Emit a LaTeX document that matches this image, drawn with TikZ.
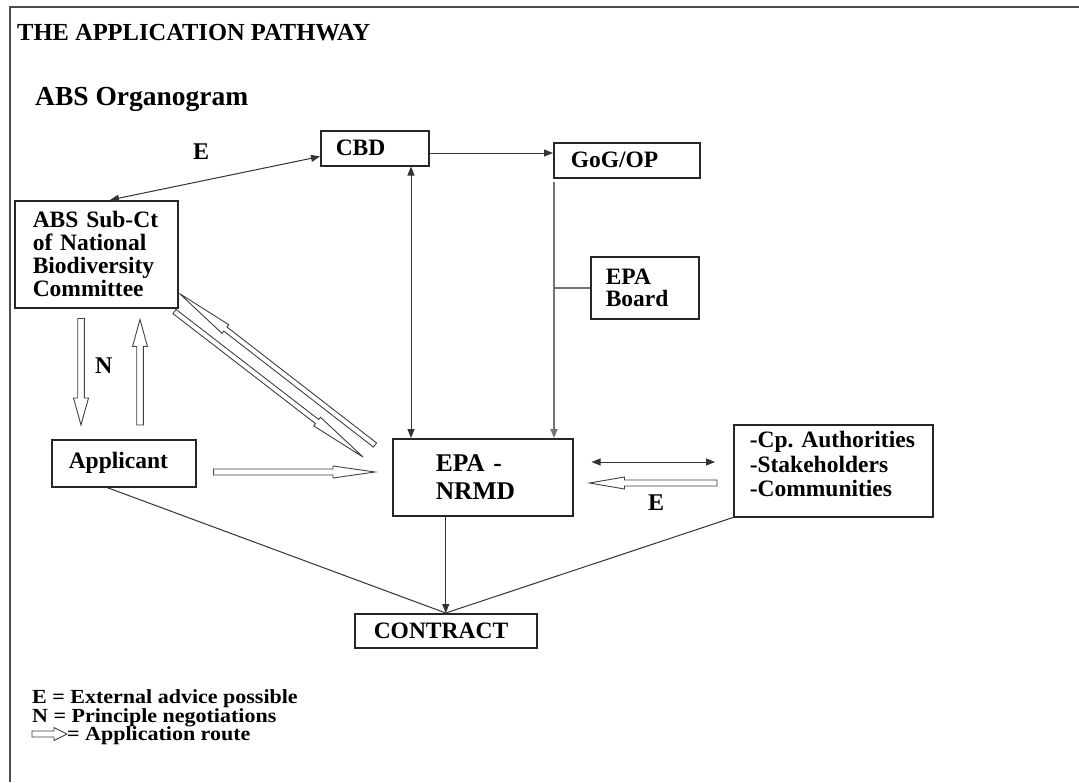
\documentclass[tikz,border=0pt]{standalone}
\usepackage{fontspec}
\setmainfont{Liberation Serif}
\newfontfamily\legendfont[FakeStretch=1.1]{Liberation Serif}
\usetikzlibrary{calc,arrows.meta}
\newcommand\fs[2]{\fontsize{#1}{#2}\selectfont\bfseries\frenchspacing}
\tikzset{
  box/.style={draw=black!85, line width=1.5pt, anchor=north west, align=left, inner ysep=0pt, font=\fs{23.5}{23}},
  thinline/.style={line width=1pt, draw=black!80},
  gline/.style={line width=1.6pt, draw=black!55},
  tipend/.style={-{Triangle[length=9pt,width=7pt]}},
  dtip/.style={{Triangle[length=9pt,width=7pt]}-{Triangle[length=9pt,width=7pt]}},
  hollow/.style={draw=black!75, line width=0.9pt, fill=white, line join=miter},
  lbl/.style={anchor=base west, inner sep=0pt},
}
% hollow arrow: #1 tail, #2 tip, #3 shaft half width, #4 head half width, #5 head length
\newcommand\harrow[5]{%
  \draw[hollow] let \p1=(#1), \p2=(#2),
     \n1={veclen(\x2-\x1,\y2-\y1)}, \n2={(\x2-\x1)/\n1}, \n3={(\y2-\y1)/\n1} in
   ({\x1-#3*\n3},{\y1+#3*\n2})
   -- ({\x2-#5*\n2-#3*\n3},{\y2-#5*\n3+#3*\n2})
   -- ({\x2-#5*\n2-#4*\n3},{\y2-#5*\n3+#4*\n2})
   -- (\p2)
   -- ({\x2-#5*\n2+#4*\n3},{\y2-#5*\n3-#4*\n2})
   -- ({\x2-#5*\n2+#3*\n3},{\y2-#5*\n3-#3*\n2})
   -- ({\x1+#3*\n3},{\y1-#3*\n2}) -- cycle;}
\begin{document}
\begin{tikzpicture}[x=1pt,y=-1pt]
\useasboundingbox (0,0) rectangle (1079,782);
\fill[white] (0,0) rectangle (1079,782);
\draw[line width=1.5pt, black!70] (1079,7) -- (10,7) -- (10,782);

\node[lbl, font=\fs{24.5}{24}] (title) at (17,40) {THE APPLICATION PATHWAY};
\node[lbl, font=\fs{27.5}{28}] (org) at (35,105) {ABS Organogram};

\node[box, text width=78pt, inner xsep=15pt, minimum height=35pt] (cbd) at (320,130) {CBD};
\node[box, text width=112pt, inner xsep=17pt, minimum height=35pt] (gog) at (553,142) {GoG/OP};
\node[box, text width=78pt, inner xsep=15pt, minimum height=62pt, font=\fs{23.5}{22}] (board) at (590,256) {EPA\\Board};
\node[box, text width=127pt, inner xsep=18pt, minimum height=107pt] (abs) at (14,200) {\mbox{ABS Sub-Ct}\\\mbox{of National}\\\mbox{Biodiversity}\\\mbox{Committee}};
\node[box, text width=110pt, inner xsep=17pt, minimum height=47pt] (app) at (51,439) {Applicant};
\node[box, text width=94pt, inner xsep=43pt, minimum height=77pt, font=\fs{25.5}{28}] (epa) at (392,438) {EPA -\\NRMD};
\node[box, text width=167pt, inner xsep=16pt, minimum height=92pt, text depth=62pt, font=\fs{23.5}{24.5}] (stk) at (733,424) {\mbox{-Cp. Authorities}\\\mbox{-Stakeholders}\\\mbox{-Communities}};
\node[box, text width=144pt, inner xsep=19pt, minimum height=34pt] (con) at (354,613) {CONTRACT};

% thin connectors
\coordinate (eA) at ($(cbd.south west)+(0,-10)$);
\coordinate (eB) at ($(abs.north west)+(96,0)$);
\draw[thinline,dtip] (eA) -- (eB);
\coordinate (cg1) at ($(cbd.north east)+(0,23)$);
\coordinate (cg2) at ($(gog.north west)+(0,11)$);
\draw[thinline,tipend] (cg1) -- (cg2);
\coordinate (ce1) at ($(cbd.south west)+(91,0)$);
\coordinate (ce2) at ($(epa.north west)+(19,0)$);
\draw[thinline,dtip] (ce1) -- (ce2);
\coordinate (gtop) at ($(gog.south west)+(1,3)$);
\coordinate (gbot) at ($(epa.north west)+(162,0)$);
\draw[gline,tipend] (gtop) -- (gbot);
\draw[gline] (board.west) -- (board.west -| gtop);
\coordinate (es1) at ($(epa.north east)+(18,24)$);
\coordinate (es2) at ($(stk.north west)+(-18,38)$);
\draw[thinline,dtip] (es1) -- (es2);
\draw[thinline,tipend] (con.north |- epa.south) -- (con.north);
\coordinate (appb) at ($(app.south west)+(56,0)$);
\draw[thinline] (appb) -- (con.north);
\draw[thinline] (stk.south west) -- (con.north);

% hollow (application route) arrows
\coordinate (n1a) at ($(abs.south west)+(67,10)$);
\coordinate (n1b) at ($(app.north west)+(30,-14)$);
\harrow{n1a}{n1b}{3.3}{7.5}{27}
\coordinate (n2a) at ($(app.north west)+(89,-14)$);
\coordinate (n2b) at ($(abs.south west)+(126,11)$);
\harrow{n2a}{n2b}{3.3}{7.5}{27}
\coordinate (ae1) at ($(app.north east)+(17,33)$);
\coordinate (ae2) at ($(epa.north west)+(-17,34)$);
\harrow{ae1}{ae2}{3}{6}{42}
\coordinate (se1) at ($(stk.north west)+(-16,59)$);
\coordinate (se2) at ($(epa.north east)+(16,45)$);
\harrow{se1}{se2}{3}{6}{35}
\coordinate (d1t) at ($(epa.north west)+(-17,7)$);
\coordinate (d1h) at ($(abs.south east)+(1,-15)$);
\harrow{d1t}{d1h}{2.6}{5.5}{58}
\coordinate (d2t) at ($(abs.south east)+(-4,3)$);
\coordinate (d2h) at ($(epa.north west)+(-29,19)$);
\harrow{d2t}{d2h}{2.6}{5.5}{58}

% labels
\node[lbl, font=\fs{24}{24}] (lE1) at (193,159) {E};
\node[lbl, font=\fs{24}{24}] (lN) at (95,373) {N};
\node[lbl, font=\fs{24}{24}] (lE2) at (648,510) {E};

% legend
\node[lbl, font=\legendfont\fs{20}{20}] (leg1) at (32,703) {E = External advice possible};
\node[lbl, font=\legendfont\fs{20}{20}] (leg2) at (32,722) {N = Principle negotiations};
\coordinate (la1) at (32,734);
\coordinate (la2) at (67,734);
\harrow{la1}{la2}{3}{6.5}{13}
\node[lbl, font=\legendfont\fs{20}{20}] (leg3) at (67,740) {= Application route};
\end{tikzpicture}
\end{document}
